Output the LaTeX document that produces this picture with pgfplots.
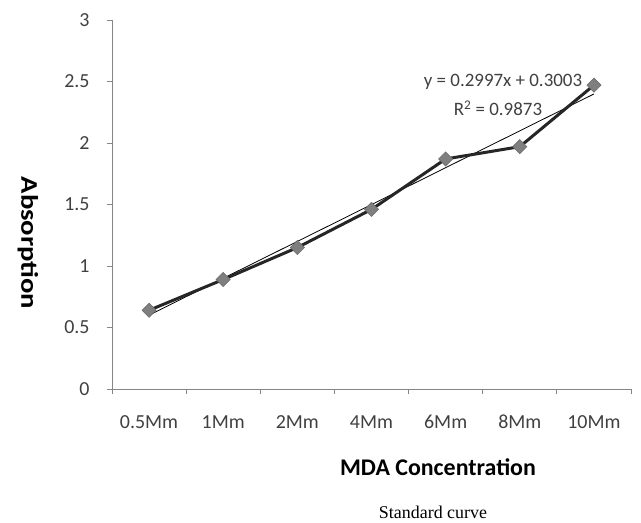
\documentclass[border=0pt]{standalone}
\usepackage{pgfplots}
\pgfplotsset{compat=1.18}
\usepackage{fontspec}
\setmainfont{Carlito}
\newfontfamily\serifb{Liberation Serif}
\definecolor{axgray}{HTML}{868686}
\definecolor{ticktext}{HTML}{404040}
\definecolor{mk}{HTML}{7F7F7F}
\definecolor{ln}{HTML}{262626}
\begin{document}
\begin{tikzpicture}[x=1bp,y=1bp]
\useasboundingbox (0,0) rectangle (641,523);
\begin{axis}[
  at={(112bp,134bp)}, anchor=south west,
  scale only axis, width=519bp, height=369bp,
  xmin=-0.5, xmax=6.5, ymin=0, ymax=3,
  axis x line=bottom, axis y line=left,
  axis line style={axgray, line width=0.9bp, -},
  xtick={0,...,6},
  xticklabels={0.5Mm,1Mm,2Mm,4Mm,6Mm,8Mm,10Mm},
  major x tick style={draw=none},
  minor xtick={-0.5,0.5,...,6.5},
  minor tick length=5bp,
  minor x tick style={axgray, line width=0.9bp},
  ytick={0,0.5,...,3},
  yticklabels={0,0.5,1,1.5,2,2.5,3},
  major tick length=5bp,
  tick align=outside,
  major y tick style={axgray, line width=0.9bp},
  ticklabel style={font=\fontsize{20}{24}\selectfont, text=ticktext},
  xticklabel style={yshift=-24bp, text height=1.5ex, text depth=0.25ex},
  yticklabel style={xshift=-14bp},
  clip=false,
]
\addplot[black, line width=0.8bp] coordinates {(0,0.6003) (6,2.3985)};
\addplot[ln, line width=3bp, mark=square*, mark size=5bp,
  mark options={fill=mk, draw=mk!85!black, line width=0.6bp, rotate=45}]
  coordinates {(0,0.64) (1,0.89) (2,1.15) (3,1.46) (4,1.87) (5,1.97) (6,2.47)};
\end{axis}
\node[font=\fontsize{19}{22}\selectfont, text=ticktext] at (503bp,441bp) {y = 0.2997x + 0.3003};
\node[font=\fontsize{19}{22}\selectfont, text=ticktext] at (498bp,415bp) {R\textsuperscript{2} = 0.9873};
\node[font=\bfseries\fontsize{24}{28}\selectfont, rotate=-90, xscale=1.2] at (28bp,280bp) {Absorption};
\node[font=\bfseries\fontsize{24}{28}\selectfont] at (438bp,56bp) {MDA Concentration};
\node[font=\serifb\fontsize{18}{21}\selectfont, inner sep=1bp] at (433bp,11bp) {Standard curve};
\end{tikzpicture}
\end{document}
